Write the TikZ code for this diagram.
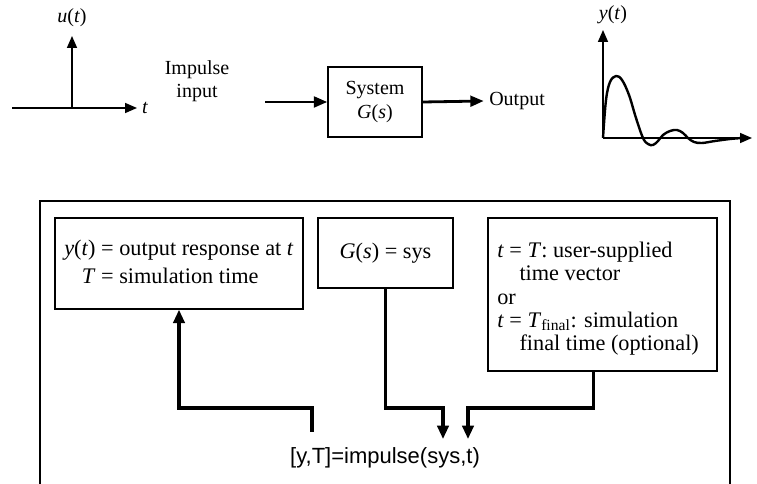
\documentclass[tikz,border=0pt]{standalone}
\usepackage{fontspec}
\setmainfont{Liberation Serif}
\newfontfamily\codefont{Liberation Sans}
\usetikzlibrary{arrows.meta}
\tikzset{
  txt/.style={font=\fontsize{15}{17.5}\selectfont, inner sep=0pt},
  bigtxt/.style={font=\fontsize{16.7}{17.4}\selectfont, inner sep=0pt},
  boxed/.style={draw, line width=1.1pt, txt},
  frameline/.style={line width=0.8pt},
  conn/.style={line width=2.3pt, -{Triangle[length=10pt,width=8.5pt]}},
  axis/.style={line width=1.2pt, -{Triangle[length=9pt,width=7.5pt]}},
  sigarr/.style={line width=2.1pt, -{Triangle[length=10pt,width=8pt]}},
  curve/.style={line width=1.8pt, line join=round}
}
\begin{document}
\begin{tikzpicture}[x=0.75pt,y=-0.75pt]
\useasboundingbox (0,0) rectangle (757,484);

% ---- input plot
\coordinate (uo) at (72,108);
\coordinate (utop) at (72,36);
\coordinate (ul) at (12,108);
\coordinate (ur) at (137,108);
\draw[axis] (ul) -- (ur);
\draw[axis] (uo) -- (utop);
\node[txt] (ulab) at (72,18) {\textit{u}(\textit{t})};
\node[txt] (tlab) at (145,108) {\textit{t}};

% ---- block
\node[txt, align=center] (imp) at (197,81) {Impulse\\input};
\node[boxed, align=center, minimum width=70.5pt, minimum height=52.5pt] (sys) at (375,102) {System\\\textit{G}(\textit{s})};
\coordinate (a0) at (265,102);
\draw[sigarr] (a0) -- (sys.west);
\node[txt, anchor=west] (out) at (489,101) {Output};
\draw[sigarr] (sys.east) -- ([xshift=-4pt]out.west);

% ---- output plot
\coordinate (yo) at (603,138);
\coordinate (ytop) at (603,30);
\coordinate (yr) at (752,138);
\draw[axis] (yo) -- (yr);
\draw[axis] (yo) -- (ytop);
\node[txt] (ylab) at (613,15) {\textit{y}(\textit{t})};
\draw[curve] plot[smooth, tension=0.6] coordinates {
 (603,138) (606,100) (610,82) (616,76) (622,80) (629,95) (636,118) (643,138)
 (648,144) (653,145) (658,141) (663,135) (670,131) (677,130) (683,133) (688,138)
 (694,142) (702,143) (715,141) (730,139) (742,138)};

% ---- bottom frame
\draw[frameline] (40,484) -- (40,201) -- (730,201) -- (730,484);

\node[boxed, minimum width=186pt, minimum height=68.25pt] (lbox) at (179,263.5) {};
\node[bigtxt, anchor=west] (ltext) at (64,265) {\begin{tabular}{@{}r@{\ =\ }l@{}}
\textit{y}(\textit{t}) & output response at \textit{t}\\[4pt]
\textit{T} & simulation time
\end{tabular}};

\node[boxed, bigtxt, minimum width=101.25pt, minimum height=52.5pt] (mbox) at (385.5,253) {\textit{G}(\textit{s})\ =\ sys};

\node[boxed, minimum width=171.75pt, minimum height=114.75pt] (rbox) at (602.5,294.5) {};
\node[bigtxt, anchor=north west, align=left] (rtext) at (497,242) {\textit{t}\ =\ \textit{T}: user-supplied\\
\hspace*{1em}time vector\\
or\\
\textit{t}\ =\ \textit{T}\textsubscript{final}: simulation\\
\hspace*{1em}final time (optional)};

% ---- command and connectors
\node[inner sep=0pt, font=\codefont\fontsize{16.5}{19}\selectfont] (cmd) at (385,458) {[y,T]=impulse(sys,t)};
\coordinate (j) at (0,408);
\coordinate (c1) at (312,432);
\coordinate (t1) at (443,439);
\coordinate (t2) at (468,439);
\draw[conn] (c1) -- (c1 |- j) -| (lbox.south);
\draw[conn] (mbox.south) -- (mbox.south |- j) -| (t1);
\draw[conn] ([xshift=-7.1pt]rbox.south) -- ([xshift=-7.1pt]rbox.south |- j) -| (t2);
\end{tikzpicture}
\end{document}
